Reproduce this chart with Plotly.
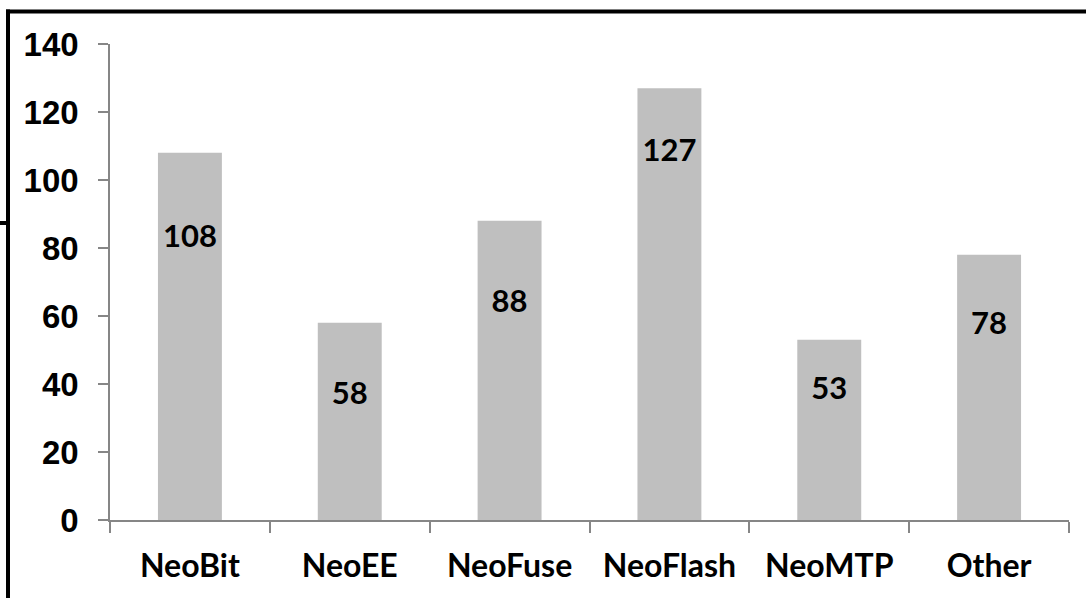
import plotly.graph_objects as go

categories = ["NeoBit", "NeoEE", "NeoFuse", "NeoFlash", "NeoMTP", "Other"]
values = [108, 58, 88, 127, 53, 78]
# heights (in data units) at which the value labels sit
label_y = [82.5, 36.5, 63.5, 108.0, 38.0, 57.0]
y_ticks = [0, 20, 40, 60, 80, 100, 120, 140]

W, H = 1086, 598
L, R, T, B = 110, 17, 44, 78
pw, ph = W - L - R, H - T - B


def px_x(x):
    return (x - L) / pw


def px_y(y):
    return (H - B - y) / ph


fig = go.Figure()
fig.add_trace(go.Bar(
    x=categories, y=values, width=0.4,
    marker=dict(color="#BFBFBF", line=dict(width=0)),
    hoverinfo="x+y", showlegend=False,
))
fig.add_trace(go.Scatter(
    x=categories, y=label_y, mode="text",
    text=[str(v) for v in values],
    textfont=dict(family="Lato", size=31, color="#000000", weight="bold"),
    textposition="middle center", showlegend=False, hoverinfo="skip",
))

border = dict(color="#000000", width=4)
shapes = [
    dict(type="line", xref="paper", yref="paper", x0=px_x(6), x1=px_x(1092),
         y0=px_y(11.5), y1=px_y(11.5), line=border),
    dict(type="line", xref="paper", yref="paper", x0=px_x(8), x1=px_x(8),
         y0=px_y(9.5), y1=px_y(604), line=border),
    dict(type="line", xref="paper", yref="paper", x0=px_x(-4), x1=px_x(8),
         y0=px_y(223), y1=px_y(223), line=border),
]

fig.update_layout(
    width=W, height=H,
    margin=dict(l=L, r=R, t=T, b=B, pad=0),
    paper_bgcolor="white", plot_bgcolor="white",
    shapes=shapes,
    xaxis=dict(
        type="category", showline=True, linecolor="#868686", linewidth=1.5,
        ticks="outside", tickson="boundaries", ticklen=11, tickcolor="#868686",
        tickwidth=1.5, showgrid=False, zeroline=False,
        tickfont=dict(family="Lato", size=32, color="#000000", weight="bold"),
        ticklabelstandoff=17,
    ),
    yaxis=dict(
        range=[0, 140], tickvals=y_ticks, showline=True, linecolor="#868686",
        linewidth=1.5, ticks="outside", ticklen=10, tickcolor="#868686",
        tickwidth=1.5, showgrid=False, zeroline=False,
        tickfont=dict(family="Liberation Sans", size=33, color="#000000", weight="bold"),
        ticklabelstandoff=13,
    ),
)

fig.write_html(
    "out.html",
    config={"displayModeBar": False},
    post_script="document.body.style.margin='0px';document.body.style.overflow='hidden';",
)
